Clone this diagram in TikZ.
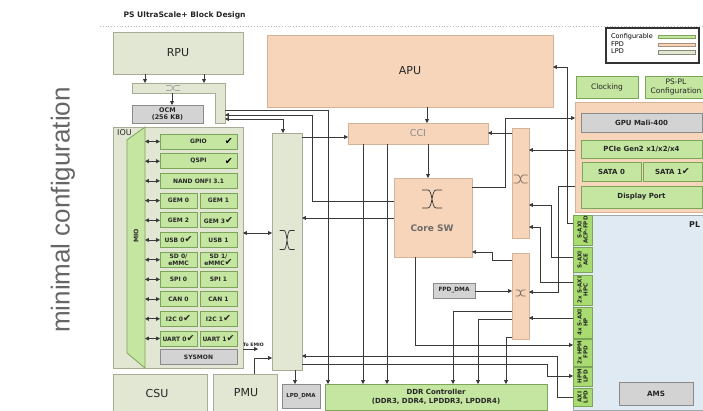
\documentclass[tikz,border=0pt]{standalone}
\usepackage{fontspec}
\setmainfont{DejaVu Sans}
\newfontfamily\capfont{Liberation Sans}
\usetikzlibrary{arrows.meta,calc}

\definecolor{lpdfill}{HTML}{E1E7D3}
\definecolor{lpdline}{HTML}{A6AD94}
\definecolor{fpdfill}{HTML}{F6D5BA}
\definecolor{fpdline}{HTML}{D6B296}
\definecolor{cfgfill}{HTML}{C5E6A1}
\definecolor{cfgline}{HTML}{7DA55A}
\definecolor{tabfill}{HTML}{A8DC70}
\definecolor{gryfill}{HTML}{D3D3D3}
\definecolor{gryline}{HTML}{8A8A8A}
\definecolor{plfill}{HTML}{DFEAF2}
\definecolor{plline}{HTML}{A0A8B0}
\definecolor{wirec}{HTML}{3A3A3A}

\newcommand\fz[1]{\fontsize{#1}{#1}\selectfont}
\newcommand\ck{{\fontsize{9.5}{9.5}\selectfont\mdseries ✔}}

\begin{document}
\begin{tikzpicture}[x=1pt, y=-1pt,
  blk/.style={rectangle, anchor=north west, inner sep=0pt, outer sep=0pt,
              align=center, line width=0.8pt, text=black!85},
  lpd/.style={blk, fill=lpdfill, draw=lpdline},
  fpd/.style={blk, fill=fpdfill, draw=fpdline},
  cfg/.style={blk, fill=cfgfill, draw=cfgline},
  tab/.style={blk, fill=tabfill, draw=cfgline},
  gry/.style={blk, fill=gryfill, draw=gryline},
  sz/.style 2 args={minimum width=#1pt, minimum height=#2pt},
  big/.style={font=\fz{11}},
  lbl/.style={font=\fontsize{6}{6.4}\selectfont\bfseries},
  tabtxt/.style={rotate=90, align=center, text=black!85,
                 font=\fontsize{5.6}{6}\selectfont\bfseries},
  wire/.style={draw=wirec, line width=0.65pt},
  arr/.style={wire, -{Triangle[length=3.8pt,width=3.8pt]}},
  arrboth/.style={wire, {Triangle[length=3.8pt,width=3.8pt]}-{Triangle[length=3.8pt,width=3.8pt]}},
  xing/.pic={\draw[line width=0.7pt]
     (-1,-1) -- (-0.4,-1) .. controls (0.05,-1) and (-0.05,1) .. (0.4,1) -- (1,1)
     (-1,1) -- (-0.4,1) .. controls (0.05,1) and (-0.05,-1) .. (0.4,-1) -- (1,-1);}
]
\useasboundingbox (0,0) rectangle (703,411);
\clip (0,0) rectangle (703,411);

% ---------- heading and side caption ----------
\node[anchor=west, font=\fz{7.6}\bfseries, text=black!85] (title) at (120,15) {PS UltraScale+ Block Design};
\coordinate (rulel) at (100,26);
\coordinate (ruler) at (703,26);
\draw[gray!55, line width=0.6pt, dash pattern=on 0.8pt off 2pt] (rulel) -- (ruler);
\node[rotate=90, font=\capfont\fz{26}, text=black!60] (mincfg) at (63,210) {minimal configuration};

% ---------- legend ----------
\node[blk, sz={93}{35}, fill=white, draw=black!80, line width=1.2pt] (legend) at (606,28) {};
\node[anchor=west, font=\fz{6.5}, inner sep=0pt] (lgc) at (611,36.5) {Configurable};
\node[anchor=west, font=\fz{6.5}, inner sep=0pt] (lgf) at (611,44.5) {FPD};
\node[anchor=west, font=\fz{6.5}, inner sep=0pt] (lgl) at (611,51.5) {LPD};
\node[cfg, sz={37}{3.5}, line width=0.6pt] (swc) at (658,35) {};
\node[fpd, sz={37}{3.5}, line width=0.6pt, draw=fpdline!80!black] (swf) at (658,43) {};
\node[lpd, sz={37}{3.5}, line width=0.6pt, draw=lpdline!80!black] (swl) at (658,50.5) {};

% ---------- RPU side ----------
\node[lpd, sz={130}{42}, big] (rpu) at (113,32) {RPU};
\node[blk, sz={93}{10}] (rbar) at (132,83) {};
\node[blk, sz={10}{40}] (rbarv) at (215,83) {};
\draw[lpd, line width=0.8pt] (rbar.north west) -- (rbarv.north east) -- (rbarv.south east)
   -- (rbarv.south west) -- (rbarv.west |- rbar.south) -- (rbar.south west) -- cycle;
\pic[color=gray!70, xscale=7, yscale=2.5] at (173,88) {xing};
\node[gry, sz={71}{18}, font=\fontsize{6.4}{7.2}\selectfont\bfseries] (ocm) at (132,105) {OCM\\(256 KB)};

% ---------- IOU ----------
\node[lpd, sz={130}{241}] (iou) at (113,127) {};
\node[anchor=north west, font=\fz{8}, inner sep=0pt, text=black!85] (ioul) at (117,129) {IOU};
\node[blk, sz={18}{241}] (mio) at (127,127) {};
\draw[fill=cfgfill, draw=cfgline, line width=0.8pt] ([yshift=-13pt]mio.north west) -- (mio.north east)
   -- (mio.south east) -- ([yshift=15pt]mio.south west) -- cycle;
\node[rotate=90, font=\fz{6.2}\bfseries, text=black!85] (miol) at (136,236) {MIO};

\node[cfg, sz={77}{15}, lbl] (gpio) at (160,134) {GPIO};
\node[cfg, sz={77}{15}, lbl] (qspi) at (160,153.7) {QSPI};
\node[cfg, sz={77}{15}, lbl] (nand) at (160,173.4) {NAND ONFI 3.1};
\node[cfg, sz={37}{15}, lbl] (gem0) at (160,193.1) {GEM 0};
\node[cfg, sz={37}{15}, lbl] (gem1) at (200,193.1) {GEM 1};
\node[cfg, sz={37}{15}, lbl] (gem2) at (160,212.8) {GEM 2};
\node[cfg, sz={37}{15}, lbl] (gem3) at (200,212.8) {GEM 3\ck};
\node[cfg, sz={37}{15}, lbl] (usb0) at (160,232.5) {USB 0\ck};
\node[cfg, sz={37}{15}, lbl] (usb1) at (200,232.5) {USB 1};
\node[cfg, sz={37}{15.5}, lbl] (sd0) at (160,252) {SD 0/\\eMMC};
\node[cfg, sz={37}{15.5}, lbl] (sd1) at (200,252) {SD 1/\\eMMC\ck};
\node[cfg, sz={37}{15}, lbl] (spi0) at (160,271.9) {SPI 0};
\node[cfg, sz={37}{15}, lbl] (spi1) at (200,271.9) {SPI 1};
\node[cfg, sz={37}{15}, lbl] (can0) at (160,291.6) {CAN 0};
\node[cfg, sz={37}{15}, lbl] (can1) at (200,291.6) {CAN 1};
\node[cfg, sz={37}{15}, lbl] (i2c0) at (160,311.3) {I2C 0\ck};
\node[cfg, sz={37}{15}, lbl] (i2c1) at (200,311.3) {I2C 1\ck};
\node[cfg, sz={37}{15}, lbl] (uart0) at (160,331) {UART 0\ck};
\node[cfg, sz={37}{15}, lbl] (uart1) at (200,331) {UART 1\ck};
\node[gry, sz={77}{15}, lbl] (sysmon) at (160,349.5) {SYSMON};
\node[anchor=east, inner sep=0pt] (gpiock) at ([xshift=-4pt]gpio.east) {\ck};
\node[anchor=east, inner sep=0pt] (qspick) at ([xshift=-4pt]qspi.east) {\ck};
\foreach \n in {gpio,qspi,nand,gem0,gem2,usb0,sd0,spi0,can0,i2c0,uart0}
  \draw[arrboth] (mio.east |- \n.west) -- (\n.west);

% ---------- CSU / PMU ----------
\node[lpd, sz={94}{40}, big] (csu) at (113,374) {};
\node[big, text=black!85] (csul) at (157,393) {CSU};
\node[lpd, sz={64}{40}] (pmu) at (213,374) {};
\node[big, text=black!85] (pmul) at (246,393) {PMU};

% ---------- LPD switch ----------
\node[lpd, sz={30}{237}] (lpdsw) at (272,133) {};
\pic[color=black!80, xscale=7.5, yscale=9.5] at (287,240) {xing};
\node[gry, sz={38}{24}, font=\fz{5.5}\bfseries] (lpddma) at (282,384) {LPD\_DMA};
\coordinate (emio) at (258,349);
\node[anchor=south west, font=\fz{4.6}\bfseries, inner sep=0pt, text=black!85] (emiol) at (243,346.5) {To EMIO};

% ---------- APU / CCI / Core SW ----------
\node[fpd, sz={286}{72}, big] (apu) at (267,35) {APU};
\node[fpd, sz={140}{21}, font=\fz{9.5}, text=black!45] (cci) at (348,123) {CCI};
\node[fpd, sz={78}{79}] (coresw) at (394,178) {};
\pic[color=black!80, xscale=10, yscale=9] at (432,199) {xing};
\node[font=\fz{9}\bfseries, text=black!58] (coreswl) at (432,228) {Core SW};
\node[fpd, sz={17}{110}] (fpdsw) at (512,128) {};
\pic[color=fpdline!60!black, xscale=7, yscale=4] at (520.5,179) {xing};
\node[fpd, sz={17}{86}] (fpdsw2) at (512,253) {};
\pic[color=fpdline!60!black, xscale=5, yscale=3] at (520.5,293) {xing};
\node[gry, sz={42}{15}, font=\fz{5.8}\bfseries] (fpddma) at (433,283) {FPD\_DMA};
\node[cfg, sz={222}{26}, font=\fontsize{7}{8.6}\selectfont\bfseries] (ddr) at (325,384)
   {DDR Controller\\(DDR3, DDR4, LPDDR3, LPDDR4)};

% ---------- FPD peripherals ----------
\node[cfg, sz={62}{22}, font=\fz{7.5}] (clk) at (576,76) {Clocking};
\node[cfg, sz={62}{22}, font=\fontsize{7.5}{8.7}\selectfont] (pspl) at (645,76) {PS-PL\\Configuration};
\node[fpd, sz={132}{110}] (fpdbox) at (575,102) {};
\node[gry, sz={121}{19}, font=\fz{7}\bfseries] (gpu) at (581,113) {GPU Mali-400};
\node[cfg, sz={121}{18}, font=\fz{7}\bfseries] (pcie) at (581,140) {PCIe Gen2 x1/x2/x4};
\node[cfg, sz={59}{19}, font=\fz{7}\bfseries] (sata0) at (582,162) {SATA 0};
\node[cfg, sz={59}{19}, font=\fz{7}\bfseries] (sata1) at (643,162) {SATA 1\ck};
\node[cfg, sz={121}{22}, font=\fz{7}\bfseries] (dp) at (581,186) {Display Port};

% ---------- PL ----------
\node[blk, sz={135}{195}, fill=plfill, draw=plline] (pl) at (573,215) {};
\node[anchor=west, font=\fz{8}\bfseries, inner sep=0pt, text=black!85] (pll) at (689,225) {PL};
\node[tab, sz={19}{30}] (acp) at (573,215) {};
\node[tab, sz={19}{25}] (ace) at (573,247) {};
\node[tab, sz={19}{30}] (hpc) at (573,275) {};
\node[tab, sz={19}{31}] (hp) at (573,307) {};
\node[tab, sz={19}{27}] (hpmf) at (573,339) {};
\node[tab, sz={19}{19}] (hpml) at (573,367) {};
\node[tab, sz={19}{18}] (axil) at (573,388) {};
\node[tabtxt] (acpt) at (acp.center) {S-AXI\\ACP-FPD};
\node[tabtxt] (acet) at (ace.center) {S-AXI\\ACE};
\node[tabtxt] (hpct) at (hpc.center) {2x S-AXI\\HPC};
\node[tabtxt] (hpt) at (hp.center) {4x S-AXI\\HP};
\node[tabtxt] (hpmft) at (hpmf.center) {2x HPM\\FPD};
\node[tabtxt] (hpmlt) at (hpml.center) {HPM\\LPD};
\node[tabtxt] (axilt) at (axil.center) {AXI\\LPD};
\node[gry, sz={74}{23}, font=\fz{7.2}\bfseries] (ams) at (619,382) {AMS};

% ---------- connections ----------
% RPU side
\draw[arr] (rpu.south -| 145,0) -- (rbar.north -| 145,0);
\draw[arr] (rpu.south -| 204,0) -- (rbar.north -| 204,0);
\draw[arr] (rbar.south -| 172,0) -- (ocm.north -| 172,0);
\draw[arr] (rbarv.east |- 0,110) -| (ddr.north -| 328,0);
\draw[arr] (coresw.west |- 0,201) -| (312,115) -- (rbarv.east |- 0,115);
\draw[arrboth] (rbarv.east |- 0,119) -| (lpdsw.north -| 283,0);
% LPD switch
\draw[arr] (lpdsw.east |- 0,137) -- (cci.west |- 0,137);
\draw[arr] (coresw.west |- 0,218) -- (lpdsw.east |- 0,218);
\draw[arrboth] (iou.east |- 0,233) -- (lpdsw.west |- 0,233);
\draw[arr] (lpdsw.south -| 295,0) -- (lpddma.north -| 295,0);
\draw[arr] (pmu.north -| 254,0) |- (lpdsw.west |- 0,358);
\draw[arr] (iou.east |- emio) -- (emio);
% APU / CCI / Core SW
\draw[arr] (apu.south -| 427,0) -- (cci.north -| 427,0);
\draw[arr] (cci.south -| 428,0) -- (coresw.north -| 428,0);
\draw[arr] (cci.south -| 363,0) -- (ddr.north -| 363,0);
\draw[arr] (cci.south -| 387,0) -- (ddr.north -| 387,0);
\draw[arr] (fpdsw.west |- 0,133) -- (cci.east |- 0,133);
\draw[arr] (coresw.east |- 0,187) -| (505,118) -- (fpdbox.west |- 0,118);
\draw[arr] (fpdbox.west |- 0,150) -- (fpdsw.east |- 0,150);
\draw[arr] (ace.west |- 0,257) -| (551,205) -- (fpdsw.east |- 0,205);
\draw[arr] (hpc.west |- 0,282) -| (540,227) -- (fpdsw.east |- 0,227);
\draw[arr] (acp.west |- 0,223) -| (567,67) -- (apu.east |- 0,67);
\draw[arr] (fpdbox.west |- 0,186) -| (558,292) -- (fpdsw2.east |- 0,292);
\draw[arr] (fpddma.east |- 0,291) -- (fpdsw2.west |- 0,291);
\draw[arr] (hp.west |- 0,318) -- (fpdsw2.east |- 0,318);
\draw[arr] (fpdsw2.west |- 0,260) -| (492,252) -- (coresw.east |- 0,252);
\draw[arr] (fpdsw2.west |- 0,311) -| (ddr.north -| 453,0);
\draw[arr] (fpdsw2.west |- 0,319) -| (ddr.north -| 478,0);
\draw[arr] (fpdsw2.west |- 0,337) -| (ddr.north -| 506,0);
\draw[arr] (coresw.south -| 415,0) |- (hpmf.west |- 0,345);
\draw[arr] (axil.west |- 0,397) -| (557,356) -- (lpdsw.east |- 0,356);
\draw[arr] (lpdsw.east |- 0,364) -| (547,376) -- (hpml.west |- 0,376);
\end{tikzpicture}
\end{document}
